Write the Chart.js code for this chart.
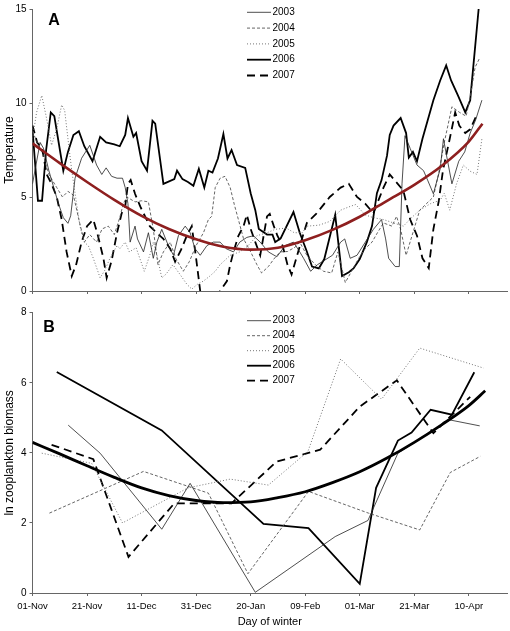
<!DOCTYPE html>
<html>
<head>
<meta charset="utf-8">
<script src="https://cdn.jsdelivr.net/npm/chart.js@4.4.1/dist/chart.umd.min.js"></script>
<style>
  html, body { margin: 0; padding: 0; background: #fff; }
  #wrap { position: relative; width: 510px; height: 631px; }
  canvas { position: absolute; left: 0; }
  #tempChart { top: 0; }
  #zooChart { top: 300px; }
</style>
</head>
<body>
<div id="wrap">
  <canvas id="tempChart" width="510" height="300"></canvas>
  <canvas id="zooChart" width="510" height="331"></canvas>
</div>
<script>
// x values are days of winter, 0 = 01-Nov
const tickDays = [0, 20, 40, 60, 80, 100, 120, 140, 160];
const tickLabels = ['01-Nov', '21-Nov', '11-Dec', '31-Dec', '20-Jan', '09-Feb', '01-Mar', '21-Mar', '10-Apr'];
const years = ['2003', '2004', '2005', '2006', '2007'];

// Panel A - temperature, [day, value]
const temp2003 = [[0,5.7],[2.8,7.9],[4,7.6],[6,6.4],[9.5,4.65],[11.3,3.9],[13,3.6],[14,4.0],[15.6,6.0],[18,7.06],[21,7.75],[23.5,6.7],[25.4,6.2],[27,6.55],[29,6.1],[31,6.0],[33,6.0],[34,5.5],[35,4.65],[35.8,2.6],[37.6,3.45],[38.5,2.77],[40.7,2.08],[42.5,3.1],[44.3,1.74],[45.6,2.6],[47.4,3.28],[49.8,2.42],[51.7,1.9],[53.5,2.94],[56,3.45],[57.8,3.1],[59.6,2.25],[61.5,1.9],[64,2.42],[66.3,2.6],[68.8,2.6],[71,2.25],[73.7,2.08],[76,2.6],[78.6,2.85],[81,2.94],[83.5,2.6],[86.5,2.08],[89.6,1.82],[92.7,2.42],[95.7,2.6],[98,2.08],[99.4,1.74],[102,1.05],[104.5,1.4],[110,1.9],[113,2.6],[114.5,2.77],[116.5,1.74],[119,1.9],[125,3.28],[128,3.8],[129.5,2.77],[130.6,1.74],[133,1.3],[134.5,1.3],[135.5,5.7],[136.6,8.26],[138.5,7.58],[141,6.7],[143.4,6.4],[145,5.86],[147,5.17],[149.5,6.5],[150.7,8.1],[151.8,7.23],[153.8,5.7],[156.3,6.9],[158.5,7.4],[160.5,8.4],[162.5,9.1],[164.8,10.15]];
const temp2004 = [[0,8.5],[2,7.8],[4,7.2],[6,6.2],[8.9,5.5],[11,5.0],[13,5.3],[15,5.1],[17,3.8],[19,2.6],[21,3.0],[23.5,2.6],[25.5,3.3],[27.8,3.45],[30,3.0],[32,3.9],[33.3,4.65],[34.6,5.0],[37.6,4.74],[40,4.8],[42.5,4.74],[44.3,3.28],[46,1.4],[48,2.08],[50.5,2.6],[52.5,1.74],[55.3,1.05],[57.5,1.56],[60,2.42],[62.7,3.1],[64.5,3.8],[65.7,3.97],[67,5.5],[68.8,6.0],[70.6,6.1],[72.5,5.5],[74,4.6],[75.5,3.8],[77.4,2.77],[80,2.08],[82.3,1.4],[84,0.96],[86.5,1.3],[88.5,1.7],[90.8,2.08],[93.5,2.1],[96.3,2.33],[98,2.6],[100.6,1.9],[103.7,1.4],[106.7,1.05],[109.7,0.96],[112,2.08],[114.7,0.45],[117,1.05],[119.6,1.74],[122,2.25],[124.5,2.6],[126.5,3.1],[128.7,3.62],[131.8,3.45],[133.5,3.97],[135,3.28],[137,1.9],[142,4.3],[147,5.0],[149,6.3],[151,7.9],[153.8,9.8],[156.6,9.5],[159,9.3],[160.5,10.3],[162.3,11.9],[164,12.4]];
const temp2005 = [[0,8.1],[1.5,9.5],[3.4,10.4],[5,9.3],[7,7.75],[9,8.7],[10.7,9.9],[11.8,9.6],[13,8.1],[14.4,6.4],[16,4.8],[17.4,3.45],[19,2.6],[20.5,2.4],[22.3,1.74],[24.8,0.7],[26.5,1.1],[28.4,1.74],[31,2.42],[32,2.25],[34,2.6],[35.5,2.08],[38,2.3],[41,1.05],[43,1.9],[44.3,2.6],[45.5,2.0],[47.4,0.7],[49,0.9],[51.5,1.4],[54,0.9],[56.6,0.36],[58.4,0.1],[60.5,0.36],[62.7,0.53],[65,0.79],[67,1.05],[68.8,1.4],[72.5,1.9],[76,2.08],[79,2.4],[82.3,2.94],[86,3.1],[89,3.28],[93,3.35],[96,3.1],[99,3.1],[100.6,3.45],[105,3.5],[109,3.7],[113,4.3],[116.5,4.5],[118.5,4.6],[122,4.05],[125,3.9],[128.7,3.8],[132.4,3.62],[136,3.45],[139,3.9],[142,4.3],[146,4.65],[149.5,4.83],[151,5.2],[153,4.3],[155.5,5.7],[158,6.7],[160.5,6.37],[163,6.2],[164.8,8.1]];
const temp2006 = [[0,8.6],[2,4.8],[3.5,4.8],[5,7.5],[6.7,9.5],[8,9.3],[11.3,6.4],[13,7.4],[15,8.3],[17,8.5],[19,7.7],[22,6.9],[24.8,8.2],[27,7.9],[30,7.8],[32,7.7],[34,8.3],[35,9.2],[37,8.2],[38,8.4],[40,6.9],[42,6.4],[44,9.05],[45,8.9],[48,5.7],[52,5.95],[53,6.4],[55,5.95],[57,5.8],[59,5.6],[61,6.5],[63,5.5],[64.5,6.4],[66,6.3],[68,7.05],[70,8.35],[71.5,7.05],[73,7.5],[75,6.7],[78,6.55],[80,5.2],[81.7,4.3],[83,3.3],[86,3.0],[88,3.0],[89,2.6],[91,2.8],[95.7,4.2],[98,3.1],[100.6,2.1],[102.5,1.3],[105,1.2],[107,1.7],[111,4.05],[113.5,0.8],[116,1.0],[117.7,1.2],[120,1.7],[122.6,2.6],[124.5,3.45],[126.3,5.2],[128,5.9],[130,7.2],[131,8.3],[132.4,8.8],[135,9.2],[137,8.4],[138,7.1],[139.5,7.4],[141,6.9],[143,8.1],[147,10.15],[149.5,11.2],[151.7,12.0],[153.5,11.2],[156,10.4],[158.7,9.5],[160.5,10.15],[163.6,15]];
const temp2007 = [[0,8.8],[1.7,7.9],[3.5,7.6],[5.2,6.2],[7,5.7],[8.9,5.0],[10.7,3.8],[12.5,2.08],[14.4,0.79],[16,1.4],[18,2.6],[20,3.45],[22.3,3.8],[24,2.94],[26,1.74],[27.2,0.7],[29,1.6],[31,3.1],[32.7,4.13],[34,4.5],[35,5.7],[36,5.9],[37.6,5.17],[39.5,4.5],[43,3.45],[45.5,3.1],[48,2.77],[50.5,2.25],[52.3,1.56],[54.5,2.2],[56.6,2.94],[58.4,3.45],[60,1.74],[61.5,0],[63.5,-0.8],[66,-0.8],[68.8,0],[71.3,0.53],[72.5,1.4],[73.7,2.08],[75.5,2.94],[77.4,3.45],[78.6,4.05],[80,3.3],[81.7,2.6],[83.5,1.9],[86,3.97],[87,4.1],[88.5,3.45],[89.8,2.94],[91.7,2.42],[93.5,1.4],[95,0.88],[98.8,2.77],[100.6,3.62],[104,4.1],[109,5.0],[113,5.5],[116,5.7],[119,5.0],[122,4.65],[125,4.14],[128.7,5.5],[131,6.2],[133,5.86],[136,5.34],[138.5,3.8],[141,2.94],[143,1.74],[145.3,1.22],[147,3.28],[149,4.8],[150.5,6.4],[153,8.1],[155,9.5],[156.5,8.8],[158.7,8.4],[160.5,8.6],[163,9.4]];
const tempFit = [[0,7.85],[10,6.8],[20,5.8],[30,4.85],[40,4.0],[50,3.3],[60,2.75],[70,2.35],[80,2.2],[90,2.3],[100,2.7],[110,3.25],[120,3.95],[130,4.8],[140,5.65],[150,6.65],[160,7.95],[165,8.9]];

// Panel B - ln zooplankton biomass, [day, value]
const zoo2003 = [[13.1,4.79],[24.8,3.99],[47.4,1.82],[57.8,3.13],[81.7,0.02],[111,1.61],[123,2.07],[134,3.99],[153,4.94],[164,4.77]];
const zoo2004 = [[6.2,2.28],[40.7,3.47],[64.5,2.85],[79,0.55],[101.2,2.9],[123.2,2.28],[142,1.8],[153.2,3.44],[164.2,3.9]];
const zoo2005 = [[3.4,3.99],[21.7,3.7],[33,2.0],[57,3.0],[72.5,3.25],[86.5,3.08],[101,4.04],[113,6.68],[128,5.53],[142,6.99],[165.4,6.42]];
const zoo2006 = [[8.9,6.31],[47.4,4.64],[84.7,1.97],[101.2,1.85],[120,0.26],[126,3.0],[134,4.35],[139,4.58],[146,5.23],[153.8,5.09],[162,6.3]];
const zoo2007 = [[7,4.23],[22.3,3.82],[35.2,1.03],[52,2.56],[73,2.56],[89.5,3.75],[105.5,4.09],[120,5.32],[133.6,6.07],[147,4.56],[160.5,5.6]];
const zooFit = [[0,4.3],[10,3.97],[20,3.63],[30,3.3],[40,3.0],[50,2.78],[60,2.64],[70,2.58],[80,2.6],[90,2.72],[100,2.89],[110,3.15],[120,3.46],[130,3.85],[140,4.3],[150,4.8],[160,5.35],[166,5.77]];

const FONT = '"Liberation Sans", Arial, sans-serif';
Chart.defaults.font.family = FONT;
Chart.defaults.color = '#000';

// line looks per year
const yearStyle = {
    '2003': { color: '#222', width: 0.8, dash: [] },
    '2004': { color: '#555', width: 0.9, dash: [3, 2] },
    '2005': { color: '#666', width: 0.9, dash: [1, 2] },
    '2006': { color: '#000', width: 1.8, dash: [] },
    '2007': { color: '#000', width: 1.8, dash: [8, 5] }
};

const toXY = pairs => pairs.map(p => ({ x: p[0], y: p[1] }));

// panel letter + legend drawn on top of the plot
const panelDecor = {
    id: 'panelDecor',
    afterDraw(chart, args, opts) {
        const ctx = chart.ctx;
        ctx.save();
        ctx.fillStyle = '#000';
        ctx.textBaseline = 'middle';
        ctx.textAlign = 'center';
        ctx.font = 'bold 16px ' + FONT;
        ctx.fillText(opts.letter, opts.letterX, opts.letterY);

        ctx.font = '10px ' + FONT;
        ctx.textAlign = 'left';
        let row = 0;
        chart.data.datasets.forEach(ds => {
            if (!years.includes(ds.label)) return;
            const y = opts.legendY + row * opts.legendStep;
            ctx.beginPath();
            ctx.strokeStyle = ds.borderColor;
            ctx.lineWidth = ds.borderWidth;
            ctx.setLineDash(ds.borderDash);
            ctx.moveTo(247, y);
            ctx.lineTo(271, y);
            ctx.stroke();
            ctx.setLineDash([]);
            ctx.fillText(ds.label, 272.5, y);
            row++;
        });
        ctx.restore();
    }
};

function makeChart(id, series, fit, fitColor, fitWidth, yMax, yStep, yTitle, cfg) {
    const datasets = [{
        label: 'fit',
        data: toXY(fit),
        borderColor: fitColor,
        borderWidth: fitWidth,
        cubicInterpolationMode: 'monotone'
    }];
    years.forEach((yr, i) => {
        const st = yearStyle[yr];
        datasets.push({
            label: yr,
            data: toXY(series[i]),
            borderColor: st.color,
            borderWidth: st.width,
            borderDash: st.dash
        });
    });

    return new Chart(document.getElementById(id), {
        type: 'line',
        data: { datasets: datasets },
        options: {
            responsive: false,
            animation: false,
            layout: { padding: { top: cfg.padTop, right: 3, left: 0, bottom: 0 } },
            elements: { point: { radius: 0 }, line: { tension: 0, fill: false } },
            plugins: {
                legend: { display: false },
                tooltip: { enabled: false },
                panelDecor: cfg.decor
            },
            scales: {
                x: {
                    type: 'linear',
                    min: 0,
                    max: 174,
                    afterFit: s => { s.height = cfg.xHeight; },
                    border: { display: true, color: '#666', width: 1 },
                    grid: { drawOnChartArea: false, drawTicks: true, tickLength: 3, color: '#666' },
                    ticks: {
                        display: cfg.showX,
                        stepSize: 20,
                        includeBounds: false,
                        autoSkip: false,
                        maxRotation: 0,
                        padding: 5,
                        font: { size: 9.5 },
                        callback: v => {
                            const i = tickDays.indexOf(v);
                            return i >= 0 ? tickLabels[i] : '';
                        }
                    },
                    title: {
                        display: cfg.showX,
                        text: 'Day of winter',
                        font: { size: 11 },
                        padding: { top: 0, bottom: 2 }
                    }
                },
                y: {
                    min: 0,
                    max: yMax,
                    afterFit: s => { s.width = 32.5; },
                    border: { display: true, color: '#666', width: 1 },
                    grid: { drawOnChartArea: false, drawTicks: true, tickLength: 3, color: '#666' },
                    ticks: { stepSize: yStep, padding: 3, font: { size: 10 } },
                    title: {
                        display: true,
                        text: yTitle,
                        font: { size: 12 },
                        padding: { top: 2, bottom: 0 }
                    }
                }
            }
        },
        plugins: [panelDecor]
    });
}

makeChart('tempChart', [temp2003, temp2004, temp2005, temp2006, temp2007], tempFit, '#8e1f1f', 2.6,
    15, 5, 'Temperature', {
        padTop: 5.7, xHeight: 3, showX: false,
        decor: { letter: 'A', letterX: 54, letterY: 21, legendY: 12.3, legendStep: 15.8 }
    });

makeChart('zooChart', [zoo2003, zoo2004, zoo2005, zoo2006, zoo2007], zooFit, '#000', 2.8,
    8, 2, 'ln zooplankton biomass', {
        padTop: 12.7, xHeight: 38, showX: true,
        decor: { letter: 'B', letterX: 49, letterY: 27.5, legendY: 20.7, legendStep: 15 }
    });
</script>
</body>
</html>
